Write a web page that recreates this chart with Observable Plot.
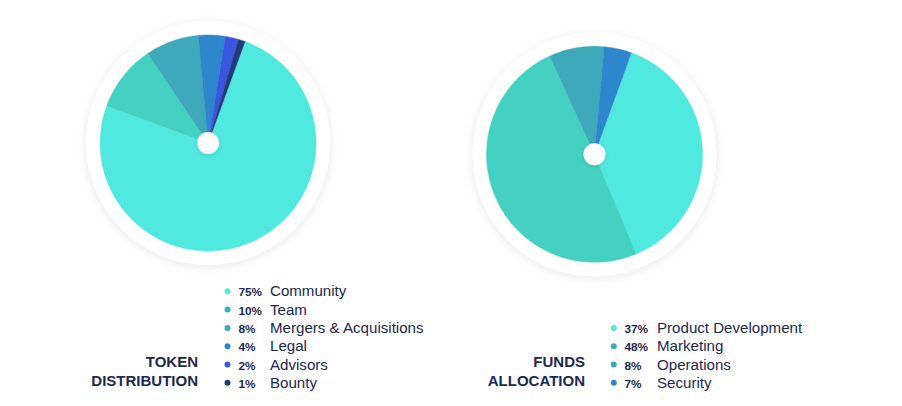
<!DOCTYPE html>
<html>
<head>
<meta charset="utf-8">
<script src="https://cdn.jsdelivr.net/npm/d3@7"></script>
<script src="https://cdn.jsdelivr.net/npm/@observablehq/plot@0.6"></script>
<style>
  html, body { margin: 0; padding: 0; background: #fff; }
  #chart { width: 902px; height: 406px; }
</style>
</head>
<body>
<div id="chart"></div>
<script>
// ---- data ----
const tokenLabels = ["Community", "Team", "Mergers & Acquisitions", "Legal", "Advisors", "Bounty"];
const tokenValues = [75, 10, 8, 4, 2, 1];
const tokenPct = ["75%", "10%", "8%", "4%", "2%", "1%"];
const tokenTitle = ["TOKEN", "DISTRIBUTION"];

const fundsLabels = ["Product Development", "Marketing", "Operations", "Security"];
const fundsValues = [37, 48, 8, 4];
const fundsPct = ["37%", "48%", "8%", "7%"];
const fundsTitle = ["FUNDS", "ALLOCATION"];

// ---- styles / layout ----
const tokenSliceColors = ["#50E9DF", "#45D1C1", "#3DA9BA", "#2E87CC", "#3A56DE", "#1E3A78"];
const tokenDotColors = ["#50E9DF", "#3BAFBE", "#3DA9BA", "#2E87CC", "#3A56DE", "#1E3A78"];
const fundsSliceColors = ["#50E9DF", "#45D1C1", "#3DA9BA", "#2E87CC"];
const fundsDotColors = ["#50E9DF", "#3DA9BA", "#3DA9BA", "#2E87CC"];
const textColor = "#1C2850";
const font = "'Liberation Sans', Arial, Helvetica, sans-serif";

const pies = [
  {cx: 207.6, cy: 142.5, ringR: 121.6, r: 108, hole: 11, start: 20},
  {cx: 594, cy: 153.8, ringR: 122.3, r: 108, hole: 11, start: 20}
];

function slicePolys(values, colors, pie, key) {
  const arcs = d3.pie().sort(null)
    .startAngle(pie.start * Math.PI / 180)
    .endAngle(pie.start * Math.PI / 180 + 2 * Math.PI)(values);
  return arcs.map((a, i) => {
    const pts = [{x: pie.cx, y: pie.cy}];
    const n = Math.max(2, Math.ceil((a.endAngle - a.startAngle) / (Math.PI / 360)));
    for (let k = 0; k <= n; k++) {
      const t = a.startAngle + (a.endAngle - a.startAngle) * k / n;
      pts.push({x: pie.cx + pie.r * Math.sin(t), y: pie.cy - pie.r * Math.cos(t)});
    }
    pts.push({x: pie.cx, y: pie.cy});
    return {key: key + i, color: colors[i], pts};
  });
}

const tokenSlices = slicePolys(tokenValues, tokenSliceColors, pies[0], "t");
const fundsSlices = slicePolys(fundsValues, fundsSliceColors, pies[1], "f");
const allSlices = tokenSlices.concat(fundsSlices);

const rowStep = 18.3;
const tokenRows = tokenLabels.map((label, i) => ({label, pct: tokenPct[i], color: tokenDotColors[i], y: 295.8 + i * rowStep}));
const fundsRows = fundsLabels.map((label, i) => ({label, pct: fundsPct[i], color: fundsDotColors[i], y: 332.4 + i * rowStep}));

const legendMarks = (rows, dotX, pctX, labelX) => [
  Plot.dot(rows, {x: dotX, y: d => d.y - 5, r: 3, fill: d => d.color, stroke: null}),
  Plot.text(rows, {x: pctX, y: "y", text: "pct", textAnchor: "start", lineAnchor: "bottom",
    fontSize: 11.8, fontWeight: "bold", fill: textColor, fontFamily: font}),
  Plot.text(rows, {x: labelX, y: "y", text: "label", textAnchor: "start", lineAnchor: "bottom",
    fontSize: 15.1, fill: textColor, fontFamily: font})
];

const titleMarks = (lines, x, y0) => Plot.text(lines.map((t, i) => ({t, y: y0 + i * 18.6})), {
  x, y: "y", text: "t", textAnchor: "end", lineAnchor: "bottom",
  fontSize: 15, fontWeight: "bold", fill: textColor, fontFamily: font
});

const chart = Plot.plot({
  width: 902,
  height: 406,
  margin: 0,
  x: {domain: [0, 902], range: [0, 902], axis: null},
  y: {domain: [0, 406], range: [0, 406], axis: null},
  style: {background: "#fff", fontFamily: font, overflow: "visible"},
  marks: [
    Plot.dot(pies, {x: "cx", y: "cy", r: pies[0].ringR + 0.3, fill: "#fff", stroke: null}),
    ...allSlices.map(s => Plot.line(s.pts, {x: "x", y: "y", fill: s.color, stroke: s.color, strokeWidth: 0.4, curve: "linear"})),
    Plot.dot(pies, {x: "cx", y: "cy", r: pies[0].hole, fill: "#fff", stroke: null}),
    ...legendMarks(tokenRows, 227, 238, 269.5),
    ...legendMarks(fundsRows, 613.3, 624, 656.5),
    titleMarks(tokenTitle, 197.5, 366.7),
    titleMarks(fundsTitle, 584.5, 366.7)
  ]
});

// soft shadow on the white ring and hole
const svg = d3.select(chart);
const defs = svg.insert("defs", ":first-child");
const f1 = defs.append("filter").attr("id", "ringShadow").attr("x", "-30%").attr("y", "-30%").attr("width", "160%").attr("height", "160%");
f1.append("feDropShadow").attr("dx", 0).attr("dy", 2).attr("stdDeviation", 5).attr("flood-color", "#1F2B4E").attr("flood-opacity", 0.09);
const f2 = defs.append("filter").attr("id", "holeShadow").attr("x", "-60%").attr("y", "-60%").attr("width", "220%").attr("height", "220%");
f2.append("feDropShadow").attr("dx", 0).attr("dy", 1).attr("stdDeviation", 2).attr("flood-color", "#1F2B4E").attr("flood-opacity", 0.12);
const dotGroups = svg.selectAll("g[aria-label='dot']").nodes();
if (dotGroups[0]) d3.select(dotGroups[0]).attr("filter", "url(#ringShadow)");
if (dotGroups[1]) d3.select(dotGroups[1]).attr("filter", "url(#holeShadow)");

document.getElementById("chart").append(chart);
</script>
</body>
</html>
